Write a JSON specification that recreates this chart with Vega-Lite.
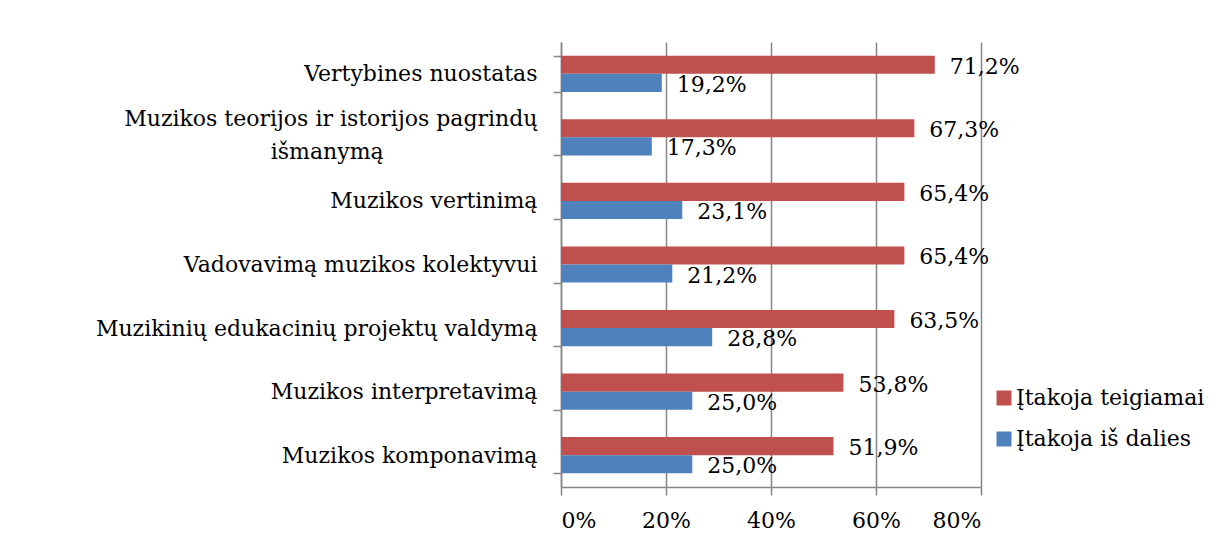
{
  "$schema": "https://vega.github.io/schema/vega-lite/v6.json",
  "autosize": "none",
  "width": 420,
  "height": 445,
  "padding": {"left": 561, "top": 42, "right": 238, "bottom": 54},
  "background": "white",
  "config": {
    "locale": {"number": {"decimal": ",", "thousands": " ", "grouping": [3], "currency": ["", " €"]}},
    "font": "DejaVu Serif",
    "view": {"stroke": null},
    "axis": {"labelFont": "DejaVu Serif", "labelFontSize": 22, "labelColor": "black", "domainColor": "#868686", "tickColor": "#868686", "gridColor": "#868686", "domainWidth": 1.5, "tickWidth": 1.5, "gridWidth": 1.5, "title": null}
  },
  "data": {"values": [
    {"cat": "Vertybines nuostatas", "series": "Įtakoja teigiamai", "v": 0.712},
    {"cat": "Vertybines nuostatas", "series": "Įtakoja iš dalies", "v": 0.192},
    {"cat": "Muzikos teorijos ir istorijos pagrindų|išmanymą", "series": "Įtakoja teigiamai", "v": 0.673},
    {"cat": "Muzikos teorijos ir istorijos pagrindų|išmanymą", "series": "Įtakoja iš dalies", "v": 0.173},
    {"cat": "Muzikos vertinimą", "series": "Įtakoja teigiamai", "v": 0.654},
    {"cat": "Muzikos vertinimą", "series": "Įtakoja iš dalies", "v": 0.231},
    {"cat": "Vadovavimą muzikos kolektyvui", "series": "Įtakoja teigiamai", "v": 0.654},
    {"cat": "Vadovavimą muzikos kolektyvui", "series": "Įtakoja iš dalies", "v": 0.212},
    {"cat": "Muzikinių edukacinių projektų valdymą", "series": "Įtakoja teigiamai", "v": 0.635},
    {"cat": "Muzikinių edukacinių projektų valdymą", "series": "Įtakoja iš dalies", "v": 0.288},
    {"cat": "Muzikos interpretavimą", "series": "Įtakoja teigiamai", "v": 0.538},
    {"cat": "Muzikos interpretavimą", "series": "Įtakoja iš dalies", "v": 0.25},
    {"cat": "Muzikos komponavimą", "series": "Įtakoja teigiamai", "v": 0.519},
    {"cat": "Muzikos komponavimą", "series": "Įtakoja iš dalies", "v": 0.25}
  ]},
  "encoding": {
    "y": {
      "field": "cat", "type": "nominal", "sort": null,
      "scale": {"paddingInner": 0.43, "paddingOuter": 0.215},
      "axis": {"tickBand": "extent", "tickSize": 8, "labelPadding": 16, "labelLineHeight": 33,
        "labelOffset": {"condition": {"test": "indexof(datum.label, '|') >= 0", "value": -19}, "value": 0},
        "labelExpr": "indexof(datum.label, '|') >= 0 ? [split(datum.label, '|')[0], split(datum.label, '|')[1] + '\u00a0\u00a0\u00a0\u00a0\u00a0\u00a0\u00a0\u00a0\u00a0\u00a0\u00a0\u00a0\u00a0\u00a0\u00a0\u00a0\u00a0\u00a0\u00a0\u00a0\u00a0\u00a0\u200b'] : datum.label",
        "labelLimit": 600}
    },
    "yOffset": {"field": "series", "type": "nominal", "scale": {"domain": ["Įtakoja teigiamai", "Įtakoja iš dalies"], "paddingInner": 0, "paddingOuter": 0}},
    "x": {
      "field": "v", "type": "quantitative",
      "scale": {"domain": [0, 0.8], "nice": false, "zero": true},
      "axis": {"values": [0, 0.2, 0.4, 0.6, 0.8], "format": ".0%", "tickSize": 8, "labelPadding": 15, "grid": true}
    }
  },
  "layer": [
    {
      "mark": {"type": "bar"},
      "encoding": {
        "color": {"field": "series", "type": "nominal",
          "scale": {"domain": ["Įtakoja teigiamai", "Įtakoja iš dalies"], "range": ["#C0504D", "#4F81BD"]},
          "legend": {"title": null, "orient": "none", "legendX": 432, "legendY": 345, "symbolType": "square", "symbolSize": 225, "symbolStrokeWidth": 0, "labelFont": "DejaVu Serif", "labelFontSize": 22, "labelColor": "black", "rowPadding": 19, "labelOffset": 1, "labelLimit": 300}
        }
      }
    },
    {
      "mark": {"type": "text", "align": "left", "baseline": "middle", "dx": 15, "dy": 2, "fontSize": 22, "font": "DejaVu Serif", "color": "black"},
      "encoding": {"text": {"field": "v", "type": "quantitative", "format": ".1%"}}
    }
  ]
}
